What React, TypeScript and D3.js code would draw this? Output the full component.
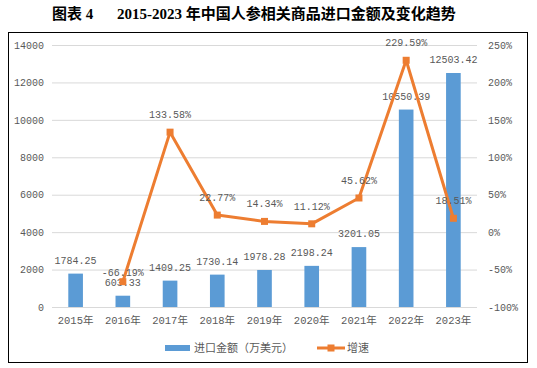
import React, { useEffect, useRef } from 'react'
import * as d3 from 'd3'

const years = ['2015年', '2016年', '2017年', '2018年', '2019年', '2020年', '2021年', '2022年', '2023年']
const importValues = [1784.25, 603.33, 1409.25, 1730.14, 1978.28, 2198.24, 3201.05, 10550.39, 12503.42]
const growthRates = [null, -66.19, 133.58, 22.77, 14.34, 11.12, 45.62, 229.59, 18.51]
const leftTicks = [0, 2000, 4000, 6000, 8000, 10000, 12000, 14000]
const rightTicks = [-100, -50, 0, 50, 100, 150, 200, 250]

const BAR_COLOR = '#5B9BD5'
const LINE_COLOR = '#ED7D31'
const TEXT_COLOR = '#595959'
const FONT = '"Liberation Mono", "Noto Sans CJK SC", monospace'

const App: React.FC = () => {
  const svgRef = useRef<SVGSVGElement>(null)

  useEffect(() => {
    if (!svgRef.current) return
    const width = 537
    const height = 368
    const margin = { top: 45, right: 60, bottom: 61, left: 52 }
    const innerWidth = width - margin.left - margin.right
    const innerHeight = height - margin.top - margin.bottom

    const svg = d3.select(svgRef.current)
    svg.selectAll('*').remove()

    svg.append('rect').attr('width', width).attr('height', height).attr('fill', '#fff')

    // title
    const title = svg
      .append('text')
      .attr('y', 19)
      .attr('font-family', '"Liberation Serif", "Noto Sans CJK SC", serif')
      .attr('font-weight', 'bold')
      .attr('font-size', 15)
      .attr('fill', '#000')
    title.append('tspan').attr('x', 52).text('图表 4')
    title.append('tspan').attr('x', 117).text('2015-2023 年中国人参相关商品进口金额及变化趋势')

    // frame
    svg
      .append('rect')
      .attr('x', 8.5)
      .attr('y', 32.5)
      .attr('width', 519)
      .attr('height', 330)
      .attr('fill', 'none')
      .attr('stroke', '#000')
      .attr('stroke-width', 1)

    const x = d3.scaleBand<string>().domain(years).range([0, innerWidth]).paddingInner(0.69).paddingOuter(0.345)
    const yLeft = d3.scaleLinear().domain([0, 14000]).range([innerHeight, 0])
    const yRight = d3.scaleLinear().domain([-100, 250]).range([innerHeight, 0])

    const g = svg.append('g').attr('transform', `translate(${margin.left},${margin.top})`)

    // grid
    g.append('g')
      .call(
        d3
          .axisLeft(yLeft)
          .tickValues(leftTicks)
          .tickSize(-innerWidth)
          .tickFormat(() => ''),
      )
      .call((s) => s.select('.domain').remove())
      .call((s) => s.selectAll('.tick line').attr('stroke', '#d9d9d9').attr('stroke-width', 1))

    // left axis
    g.append('g')
      .call(d3.axisLeft(yLeft).tickValues(leftTicks).tickSize(0).tickPadding(8).tickFormat(d3.format('d')))
      .call((s) => s.select('.domain').remove())
      .call((s) =>
        s.selectAll('.tick text').attr('font-family', FONT).attr('font-size', 10).attr('fill', TEXT_COLOR),
      )

    // right axis
    g.append('g')
      .attr('transform', `translate(${innerWidth},0)`)
      .call(
        d3
          .axisRight(yRight)
          .tickValues(rightTicks)
          .tickSize(0)
          .tickPadding(11)
          .tickFormat((d) => `${d}%`),
      )
      .call((s) => s.select('.domain').remove())
      .call((s) =>
        s.selectAll('.tick text').attr('font-family', FONT).attr('font-size', 10).attr('fill', TEXT_COLOR),
      )

    // x axis
    g.append('g')
      .attr('transform', `translate(0,${innerHeight})`)
      .call(d3.axisBottom(x).tickSize(0).tickPadding(10))
      .call((s) => s.select('.domain').remove())
      .call((s) =>
        s.selectAll('.tick text').attr('font-family', FONT).attr('font-size', 10.5).attr('fill', TEXT_COLOR),
      )

    // bars
    g.selectAll('.bar')
      .data(importValues)
      .join('rect')
      .attr('x', (_, i) => x(years[i])!)
      .attr('y', (d) => yLeft(d))
      .attr('width', x.bandwidth())
      .attr('height', (d) => innerHeight - yLeft(d))
      .attr('fill', BAR_COLOR)

    // bar labels
    g.selectAll('.bar-label')
      .data(importValues)
      .join('text')
      .attr('x', (_, i) => x(years[i])! + x.bandwidth() / 2)
      .attr('y', (d) => yLeft(d) - 10)
      .attr('text-anchor', 'middle')
      .attr('font-family', FONT)
      .attr('font-size', 10)
      .attr('fill', TEXT_COLOR)
      .text((d) => d.toFixed(2))

    // line
    const pts = growthRates
      .map((v, i) => ({ v, i }))
      .filter((d): d is { v: number; i: number } => d.v !== null)
    const cx = (i: number) => x(years[i])! + x.bandwidth() / 2

    const line = d3
      .line<{ v: number; i: number }>()
      .x((d) => cx(d.i))
      .y((d) => yRight(d.v))

    g.append('path')
      .attr('d', line(pts))
      .attr('fill', 'none')
      .attr('stroke', LINE_COLOR)
      .attr('stroke-width', 3)
      .attr('stroke-linejoin', 'round')

    g.selectAll('.marker')
      .data(pts)
      .join('rect')
      .attr('x', (d) => cx(d.i) - 3.5)
      .attr('y', (d) => yRight(d.v) - 3.5)
      .attr('width', 7)
      .attr('height', 7)
      .attr('fill', LINE_COLOR)

    g.selectAll('.line-label')
      .data(pts)
      .join('text')
      .attr('x', (d) => cx(d.i))
      .attr('y', (d) => yRight(d.v) - (d.v < 0 ? 6 : 14))
      .attr('text-anchor', 'middle')
      .attr('font-family', FONT)
      .attr('font-size', 10)
      .attr('fill', TEXT_COLOR)
      .text((d) => `${d.v.toFixed(2)}%`)

    // legend
    const lg = svg.append('g').attr('transform', 'translate(0,348)')
    lg.append('rect').attr('x', 165).attr('y', -3).attr('width', 25).attr('height', 6).attr('fill', BAR_COLOR)
    lg.append('text')
      .attr('x', 194)
      .attr('y', 4)
      .attr('font-family', '"Noto Sans CJK SC", sans-serif')
      .attr('font-size', 11)
      .attr('fill', TEXT_COLOR)
      .text('进口金额（万美元）')
    lg.append('line')
      .attr('x1', 317)
      .attr('x2', 345)
      .attr('y1', 0)
      .attr('y2', 0)
      .attr('stroke', LINE_COLOR)
      .attr('stroke-width', 3)
    lg.append('rect').attr('x', 327.5).attr('y', -3.5).attr('width', 7).attr('height', 7).attr('fill', LINE_COLOR)
    lg.append('text')
      .attr('x', 347)
      .attr('y', 4)
      .attr('font-family', '"Noto Sans CJK SC", sans-serif')
      .attr('font-size', 11)
      .attr('fill', TEXT_COLOR)
      .text('增速')
  }, [])

  return (
    <svg
      ref={svgRef}
      width={537}
      height={368}
      style={{ position: 'absolute', left: 0, top: 0, display: 'block' }}
    ></svg>
  )
}

export default App
